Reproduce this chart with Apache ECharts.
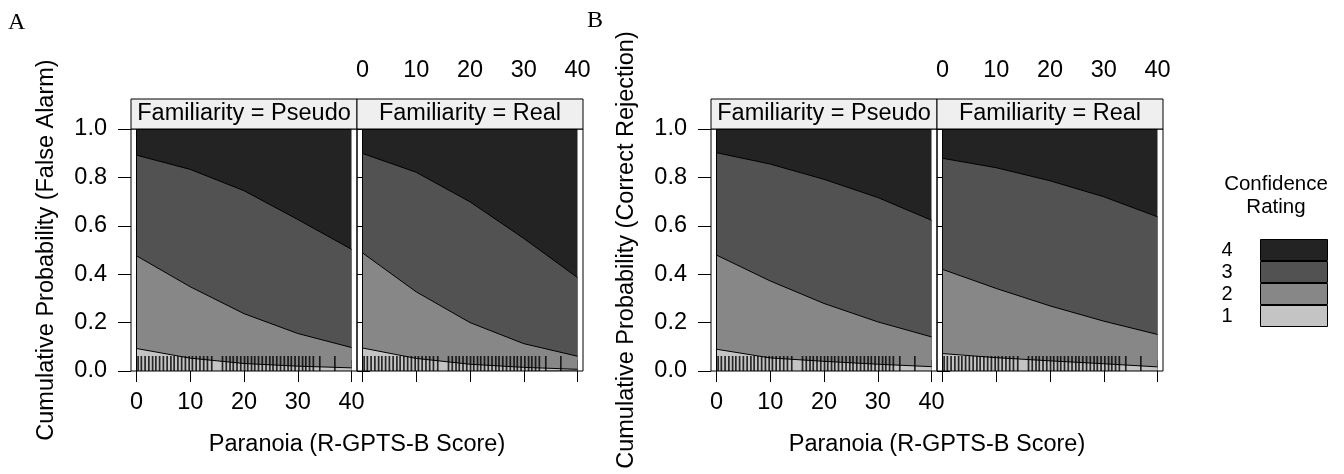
<!DOCTYPE html>
<html>
<head>
<meta charset="utf-8">
<title>Cumulative probability by paranoia</title>
<script src="https://cdn.jsdelivr.net/npm/echarts@6/dist/echarts.min.js"></script>
<style>
  html, body { margin: 0; padding: 0; background: #fff; }
  #chart { width: 1344px; height: 474px; }
</style>
</head>
<body>
<div id="chart"></div>
<script>
var scores = [0, 10, 20, 30, 40];
var total = [1, 1, 1, 1, 1];

// A: false alarm, cumulative P(rating <= 1), <= 2, <= 3
var faPseudo1 = [0.093, 0.053, 0.031, 0.020, 0.013];
var faPseudo2 = [0.476, 0.348, 0.237, 0.155, 0.097];
var faPseudo3 = [0.892, 0.833, 0.745, 0.626, 0.503];
var faReal1 = [0.095, 0.052, 0.028, 0.015, 0.007];
var faReal2 = [0.488, 0.327, 0.200, 0.113, 0.061];
var faReal3 = [0.899, 0.821, 0.699, 0.548, 0.386];

// B: correct rejection
var crPseudo1 = [0.090, 0.054, 0.040, 0.028, 0.018];
var crPseudo2 = [0.479, 0.372, 0.279, 0.203, 0.141];
var crPseudo3 = [0.902, 0.855, 0.792, 0.717, 0.623];
var crReal1 = [0.072, 0.055, 0.042, 0.030, 0.017];
var crReal2 = [0.420, 0.341, 0.269, 0.206, 0.151];
var crReal3 = [0.879, 0.840, 0.786, 0.720, 0.637];

// rug of observed R-GPTS-B scores
var rugScores = [0.3, 0.9, 1.6, 2.3, 3.0, 3.6, 4.3, 5.0, 5.7, 6.4, 7.0, 7.7, 8.4, 9.1, 9.8,
  10.4, 11.1, 11.8, 12.5, 13.2, 14.0, 16.0, 16.7, 17.4, 18.0, 18.7, 19.4, 20.1, 20.7,
  21.4, 22.0, 22.7, 23.4, 24.1, 24.8, 25.4, 26.1, 26.8, 27.5, 28.2, 28.8, 29.5, 30.2,
  30.9, 31.5, 32.2, 32.9, 34.1, 36.9];

var levels = ['4', '3', '2', '1'];
var levelColors = ['#232323', '#525252', '#878787', '#c4c4c4'];
var facetNames = ['Familiarity = Pseudo', 'Familiarity = Real', 'Familiarity = Pseudo', 'Familiarity = Real'];
var facetCurves = [
  [total, faPseudo3, faPseudo2, faPseudo1],
  [total, faReal3, faReal2, faReal1],
  [total, crPseudo3, crPseudo2, crPseudo1],
  [total, crReal3, crReal2, crReal1]
];
var yTitles = ['Cumulative Probability (False Alarm)', '', 'Cumulative Probability (Correct Rejection)', ''];

var FONT = '"Liberation Sans", Arial, sans-serif';
var FS = 23.5;
var boxLeft = [131, 357, 711, 937];
var BOX_W = 226, PAD = 5.5, TOP = 129, H = 242;

var grids = [], xAxes = [], yAxes = [], series = [], graphics = [];
var n = boxLeft.length;

// outer panel boxes
for (var i = 0; i < n; i++) {
  var isPseudo = i % 2 === 0;
  grids.push({ left: boxLeft[i], top: TOP, width: BOX_W, height: H, show: true,
    borderColor: '#000', borderWidth: 1, backgroundColor: 'transparent', z: 10 });
  xAxes.push({ gridIndex: i, type: 'value', min: 0, max: 1, show: false });
  yAxes.push({
    gridIndex: i, type: 'value', min: 0, max: 1, interval: 0.2,
    position: isPseudo ? 'left' : 'right',
    axisLine: { show: false },
    axisTick: { show: true, length: 13, lineStyle: { color: '#000', width: 1 } },
    axisLabel: { show: isPseudo, margin: 24, color: '#000', fontSize: FS, fontFamily: FONT,
      formatter: function (v) { return v.toFixed(1); } },
    splitLine: { show: false },
    name: yTitles[i], nameLocation: 'middle', nameGap: 72,
    nameTextStyle: { color: '#000', fontSize: FS, fontFamily: FONT }
  });
}
// inner data areas
for (var i = 0; i < n; i++) {
  grids.push({ left: boxLeft[i] + PAD, top: TOP, width: BOX_W - 2 * PAD, height: H });
}
for (var i = 0; i < n; i++) {
  var isPseudo = i % 2 === 0;
  xAxes.push({
    gridIndex: n + i, type: 'value', min: 0, max: 40, interval: 10, position: 'bottom',
    axisLine: { show: false },
    axisTick: { show: true, length: 11, lineStyle: { color: '#000', width: 1 } },
    axisLabel: { show: isPseudo, margin: 20, color: '#000', fontSize: FS, fontFamily: FONT },
    splitLine: { show: false }
  });
}
for (var i = 0; i < n; i++) {
  var isPseudo = i % 2 === 0;
  xAxes.push({
    gridIndex: n + i, type: 'value', min: 0, max: 40, interval: 10, position: 'top', offset: 30,
    axisLine: { show: false },
    axisTick: { show: true, length: 11, lineStyle: { color: '#000', width: 1 } },
    axisLabel: { show: !isPseudo, margin: 16, color: '#000', fontSize: FS, fontFamily: FONT },
    splitLine: { show: false }
  });
}
['left', 'right'].forEach(function (pos) {
  for (var i = 0; i < n; i++) {
    yAxes.push({
      gridIndex: n + i, type: 'value', min: 0, max: 1, position: pos, z: 10,
      axisLine: { show: true, lineStyle: { color: '#000', width: 1 } },
      axisTick: { show: false }, axisLabel: { show: false }, splitLine: { show: false }
    });
  }
});

for (var i = 0; i < n; i++) {
  facetCurves[i].forEach(function (curve, k) {
    series.push({
      type: 'line', name: levels[k], xAxisIndex: n + i, yAxisIndex: n + i,
      data: scores.map(function (s, j) { return [s, curve[j]]; }),
      symbol: 'none', silent: true,
      lineStyle: { color: '#000', width: 1 },
      itemStyle: { color: levelColors[k] },
      areaStyle: { color: levelColors[k], opacity: 1 }
    });
  });
  series.push({
    type: 'scatter', xAxisIndex: n + i, yAxisIndex: n + i, silent: true, z: 5,
    data: rugScores.map(function (v) { return [v, 0]; }),
    symbol: 'rect', symbolSize: [1.7, 15], symbolOffset: [0, -7.5],
    itemStyle: { color: '#000' }
  });

  // strip above each panel
  graphics.push({ type: 'rect', z: 20,
    shape: { x: boxLeft[i], y: 99, width: BOX_W, height: 30 },
    style: { fill: '#efefef', stroke: '#000', lineWidth: 1 } });
  graphics.push({ type: 'text', z: 21, x: boxLeft[i] + BOX_W / 2, y: 114,
    style: { text: facetNames[i], fill: '#000', fontSize: FS, fontFamily: FONT,
      align: 'center', verticalAlign: 'middle' } });
}

// x axis titles, panel letters, legend title
[357, 937].forEach(function (cx) {
  graphics.push({ type: 'text', x: cx, y: 445,
    style: { text: 'Paranoia (R-GPTS-B Score)', fill: '#000', fontSize: FS, fontFamily: FONT,
      align: 'center', verticalAlign: 'middle' } });
});
graphics.push({ type: 'text', x: 8, y: 23,
  style: { text: 'A', fill: '#000', fontSize: 24, fontFamily: '"Liberation Serif", serif', verticalAlign: 'middle' } });
graphics.push({ type: 'text', x: 587, y: 21,
  style: { text: 'B', fill: '#000', fontSize: 24, fontFamily: '"Liberation Serif", serif', verticalAlign: 'middle' } });
graphics.push({ type: 'text', x: 1276, y: 184,
  style: { text: 'Confidence', fill: '#000', fontSize: 20.5, fontFamily: FONT, align: 'center', verticalAlign: 'middle' } });
graphics.push({ type: 'text', x: 1276, y: 207,
  style: { text: 'Rating', fill: '#000', fontSize: 20.5, fontFamily: FONT, align: 'center', verticalAlign: 'middle' } });

var chart = echarts.init(document.getElementById('chart'), null, { renderer: 'canvas' });
chart.setOption({
  animation: false,
  backgroundColor: '#fff',
  grid: grids,
  xAxis: xAxes,
  yAxis: yAxes,
  legend: {
    orient: 'vertical', right: 16, top: 239, padding: 0,
    itemGap: 0, itemWidth: 67, itemHeight: 21, align: 'right',
    selectedMode: false,
    textStyle: { color: '#000', fontSize: 20, fontFamily: FONT, padding: [0, 23, 0, 0] },
    data: levels.map(function (name, k) {
      return { name: name, icon: 'rect',
        itemStyle: { color: levelColors[k], borderColor: '#000', borderWidth: 1 } };
    })
  },
  graphic: graphics,
  series: series
});
</script>
</body>
</html>
